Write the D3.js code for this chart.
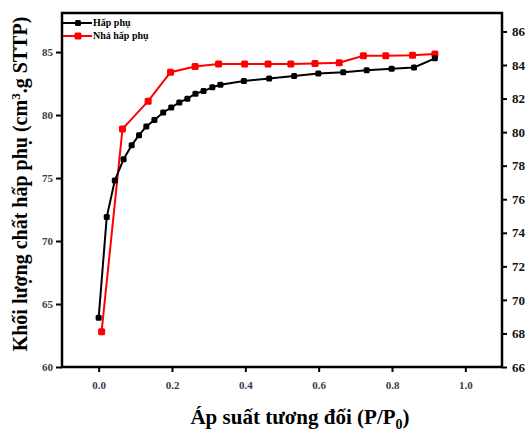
<!DOCTYPE html>
<html>
<head>
<meta charset="utf-8">
<script src="https://cdn.jsdelivr.net/npm/d3@7"></script>
<style>
  body { margin: 0; background: #fff; }
  svg { display: block; font-family: "Liberation Serif", "DejaVu Serif", serif; }
</style>
</head>
<body>
<script>
// hấp phụ (adsorption)
var adsX = [0.0, 0.022, 0.044, 0.068, 0.09, 0.11, 0.13, 0.152, 0.176, 0.198, 0.22, 0.242, 0.264, 0.286, 0.31, 0.332, 0.396, 0.465, 0.533, 0.599, 0.667, 0.731, 0.799, 0.86, 0.917];
var adsY = [63.9, 71.9, 74.8, 76.5, 77.6, 78.4, 79.1, 79.6, 80.2, 80.6, 81.0, 81.3, 81.7, 81.9, 82.2, 82.4, 82.7, 82.9, 83.1, 83.3, 83.4, 83.55, 83.67, 83.78, 84.5];
// nhả hấp phụ (desorption)
var desX = [0.008, 0.065, 0.135, 0.196, 0.263, 0.327, 0.398, 0.462, 0.524, 0.59, 0.656, 0.722, 0.783, 0.856, 0.917];
var desY = [62.8, 78.9, 81.1, 83.4, 83.85, 84.05, 84.05, 84.05, 84.05, 84.1, 84.15, 84.7, 84.7, 84.75, 84.85];

var xTicks = [0, 0.2, 0.4, 0.6, 0.8, 1.0];
var leftTicks = [60, 65, 70, 75, 80, 85];
var rightTicks = [66, 68, 70, 72, 74, 76, 78, 80, 82, 84, 86];

var W = 529, H = 437;
var L = 62, R = 502, T = 13, B = 367;

var svg = d3.select('body').append('svg').attr('width', W).attr('height', H);

var x = d3.scaleLinear().domain([-0.1, 1.1]).range([L, R]);
var y = d3.scaleLinear().domain([60, 88.1]).range([B, T]);
var y2 = d3.scaleLinear().domain([66, 87.1]).range([B, T]);

// axes
var gx = svg.append('g').attr('transform', 'translate(0,' + B + ')')
  .call(d3.axisBottom(x).tickValues(xTicks).tickFormat(d3.format('.1f')).tickSize(5).tickPadding(9));
var gl = svg.append('g').attr('transform', 'translate(' + L + ',0)')
  .call(d3.axisLeft(y).tickValues(leftTicks).tickSize(6).tickPadding(3));
var gr = svg.append('g').attr('transform', 'translate(' + R + ',0)')
  .call(d3.axisRight(y2).tickValues(rightTicks).tickSize(5).tickPadding(5));

[gx, gl, gr].forEach(function(g){
  g.select('.domain').remove();
  g.selectAll('line').attr('stroke', '#000').attr('stroke-width', 2);
  g.selectAll('text').attr('font-weight', 'bold').attr('font-family', '"Liberation Serif", serif');
});
gx.selectAll('text').attr('font-size', 11).attr('fill', '#3a3a4a');
gl.selectAll('text').attr('font-size', 11).attr('fill', '#3a3a4a');
gr.selectAll('text').attr('font-size', 13).attr('fill', '#111');

// frame
svg.append('rect').attr('x', L).attr('y', T).attr('width', R - L).attr('height', B - T)
  .attr('fill', 'none').attr('stroke', '#000').attr('stroke-width', 2.5);

// series
var series = [
  { name: 'Hấp phụ', xs: adsX, ys: adsY, color: '#000', size: 6 },
  { name: 'Nhả hấp phụ', xs: desX, ys: desY, color: '#ff0000', size: 7 }
];

series.slice().reverse().forEach(function(s){
  var pts = s.xs.map(function(v, i){ return [v, s.ys[i]]; });
  svg.append('path').datum(pts)
    .attr('fill', 'none').attr('stroke', s.color).attr('stroke-width', 2)
    .attr('d', d3.line().x(function(d){ return x(d[0]); }).y(function(d){ return y(d[1]); }));
  svg.selectAll(null).data(pts).enter().append('rect')
    .attr('x', function(d){ return x(d[0]) - s.size / 2; })
    .attr('y', function(d){ return y(d[1]) - s.size / 2; })
    .attr('width', s.size).attr('height', s.size)
    .attr('rx', 1.5)
    .attr('fill', s.color);
});

// legend
series.forEach(function(s, i){
  var ly = 23 + i * 13;
  svg.append('line').attr('x1', L + 1).attr('x2', 92).attr('y1', ly).attr('y2', ly)
    .attr('stroke', s.color).attr('stroke-width', 2);
  svg.append('rect').attr('x', 78 - s.size / 2).attr('y', ly - s.size / 2)
    .attr('width', s.size).attr('height', s.size).attr('rx', 1.5).attr('fill', s.color);
  svg.append('text').attr('x', 93).attr('y', ly + 3)
    .attr('font-size', 10).attr('font-weight', 'bold').text(s.name);
});

// axis titles
var xt = svg.append('text').attr('x', 300).attr('y', 424).attr('text-anchor', 'middle')
  .attr('font-size', 21).attr('font-weight', 'bold');
xt.append('tspan').text('Áp suất tương đối (P/P');
xt.append('tspan').attr('font-size', 14).attr('dy', 5).text('0');
xt.append('tspan').attr('dy', -5).text(')');

var yt = svg.append('text').attr('transform', 'translate(27,184) rotate(-90)')
  .attr('text-anchor', 'middle').attr('font-size', 20).attr('font-weight', 'bold');
yt.append('tspan').text('Khối lượng chất hấp phụ (cm');
yt.append('tspan').attr('font-size', 13).attr('dy', -7).text('3');
yt.append('tspan').attr('dy', 7).text('.g STTP)');
</script>
</body>
</html>
